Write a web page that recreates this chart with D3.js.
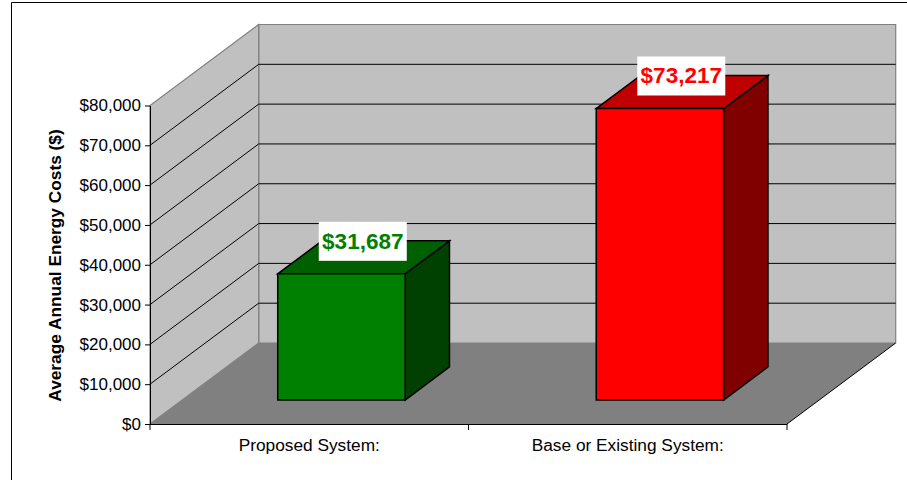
<!DOCTYPE html>
<html>
<head>
<meta charset="utf-8">
<script src="https://cdn.jsdelivr.net/npm/d3@7/dist/d3.min.js"></script>
<style>
html, body { margin: 0; padding: 0; background: #fff; }
svg { display: block; font-family: "Liberation Sans", Arial, sans-serif; }
</style>
</head>
<body>
<svg id="chart" width="907" height="480"></svg>
<script>
const categories = ["Proposed System:", "Base or Existing System:"];
const costs = [31687, 73217];
const valueLabels = ["$31,687", "$73,217"];
const tickValues = [0, 10000, 20000, 30000, 40000, 50000, 60000, 70000, 80000];
const frontColors = ["#008000", "#ff0000"];
const topColors = ["#006000", "#c00000"];
const sideColors = ["#004000", "#800000"];
const labelColors = ["#008000", "#ff0000"];

const svg = d3.select("#chart");

const x = d3.scaleBand().domain(categories).range([150, 787]).paddingInner(0).paddingOuter(0);
const y = d3.scaleLinear().domain([0, 80000]).range([424, 105.5]);
// Oblique projection: depth 0 is the front plane, depth 1 is the back wall.
const depthX = d3.scaleLinear().domain([0, 1]).range([0, 108.7]);
const depthY = d3.scaleLinear().domain([0, 1]).range([0, -81]);
const project = (px, value, depth) => [px + depthX(depth), y(value) + depthY(depth)];
const poly = pts => pts.map(p => p.join(",")).join(" ");

const x0 = x.range()[0], x1 = x.range()[1];
const maxValue = tickValues[tickValues.length - 1];

// Outer chart frame
svg.append("path").attr("d", "M11.5,480V2.5H907").attr("fill", "none").attr("stroke", "#000").attr("stroke-width", 1);

// Walls and floor
svg.append("polygon").attr("fill", "#c0c0c0").attr("stroke", "#808080").attr("stroke-width", 1.2)
  .attr("points", poly([project(x0, 0, 1), project(x1, 0, 1), project(x1, maxValue, 1), project(x0, maxValue, 1)]));
svg.append("polygon").attr("fill", "#c0c0c0").attr("stroke", "#808080").attr("stroke-width", 1.2)
  .attr("points", poly([project(x0, 0, 0), project(x0, 0, 1), project(x0, maxValue, 1), project(x0, maxValue, 0)]));
svg.append("polygon").attr("fill", "#808080")
  .attr("points", poly([project(x0, 0, 0), project(x1, 0, 0), project(x1, 0, 1), project(x0, 0, 1)]));
svg.append("line").attr("stroke", "#000").attr("stroke-width", 1)
  .attr("x1", project(x1, 0, 0)[0]).attr("y1", project(x1, 0, 0)[1])
  .attr("x2", project(x1, 0, 1)[0]).attr("y2", project(x1, 0, 1)[1]);

// Gridlines running along the side wall and across the back wall
const grid = tickValues.slice(1, -1);
svg.append("g").selectAll("path").data(grid).join("path")
  .attr("fill", "none").attr("stroke", "#000").attr("stroke-width", 1)
  .attr("d", v => "M" + project(x0, v, 0).join(",") + "L" + project(x0, v, 1).join(",") + "L" + project(x1, v, 1).join(","));

// Bars as oblique boxes
const depthStart = 0.296, depthEnd = 0.704;
const barGroups = svg.append("g").selectAll("g").data(categories).join("g")
  .attr("stroke", "#000").attr("stroke-width", 1.5).attr("stroke-linejoin", "miter");
const barWidth = x.bandwidth() * 0.4;
const barLeft = c => x(c) + (x.bandwidth() - barWidth) / 2;

barGroups.append("polygon")
  .attr("fill", (c, i) => sideColors[i])
  .attr("points", (c, i) => {
    const r = barLeft(c) + barWidth;
    return poly([project(r, 0, depthStart), project(r, 0, depthEnd), project(r, costs[i], depthEnd), project(r, costs[i], depthStart)]);
  });
barGroups.append("polygon")
  .attr("fill", (c, i) => topColors[i])
  .attr("points", (c, i) => {
    const l = barLeft(c), r = l + barWidth;
    return poly([project(l, costs[i], depthStart), project(r, costs[i], depthStart), project(r, costs[i], depthEnd), project(l, costs[i], depthEnd)]);
  });
barGroups.append("polygon")
  .attr("fill", (c, i) => frontColors[i])
  .attr("points", (c, i) => {
    const l = barLeft(c), r = l + barWidth;
    return poly([project(l, 0, depthStart), project(r, 0, depthStart), project(r, costs[i], depthStart), project(l, costs[i], depthStart)]);
  });

// Value labels on white boxes above each bar
const labels = svg.append("g").selectAll("g").data(categories).join("g")
  .attr("transform", (c, i) => {
    const p = project(barLeft(c), costs[i], depthEnd);
    return `translate(${p[0] + barWidth / 2 - 23},${p[1] + 1})`;
  });
labels.append("rect").attr("x", -44).attr("y", -20).attr("width", 88).attr("height", 39).attr("fill", "#fff");
labels.append("text").attr("text-anchor", "middle").attr("y", 7)
  .attr("font-size", 22.5).attr("font-weight", "bold")
  .attr("fill", (c, i) => labelColors[i])
  .text((c, i) => valueLabels[i]);

// Value axis
const yAxis = d3.axisLeft(y).tickValues(tickValues).tickSize(5).tickSizeOuter(0).tickPadding(4)
  .tickFormat(d => "$" + d3.format(",")(d));
svg.append("g").attr("transform", `translate(${x0},0)`).call(yAxis)
  .call(g => g.selectAll("text").attr("font-size", 17).attr("font-family", "'Liberation Sans', Arial, sans-serif").attr("fill", "#000"))
  .call(g => g.selectAll("line, path").attr("stroke", "#000"));

// Category axis
const xAxis = d3.axisBottom(x).tickSize(0).tickPadding(15);
const xAxisG = svg.append("g").attr("transform", `translate(0,${y(0)})`).call(xAxis);
xAxisG.selectAll("text").attr("font-size", 17.3).attr("font-family", "'Liberation Sans', Arial, sans-serif").attr("fill", "#000");
xAxisG.select("path.domain").attr("stroke", "#000").attr("d", `M${x0},0.5H${x1}`);
xAxisG.append("g").selectAll("line").data([x0, x(categories[1]), x1]).join("line")
  .attr("x1", d => d).attr("x2", d => d).attr("y1", 0).attr("y2", 6).attr("stroke", "#000");

// Axis title
svg.append("text").attr("transform", "translate(60.5,265.5) rotate(-90)")
  .attr("text-anchor", "middle").attr("font-size", 17.3).attr("font-weight", "bold").attr("fill", "#000")
  .text("Average Annual Energy Costs ($)");
</script>
</body>
</html>
